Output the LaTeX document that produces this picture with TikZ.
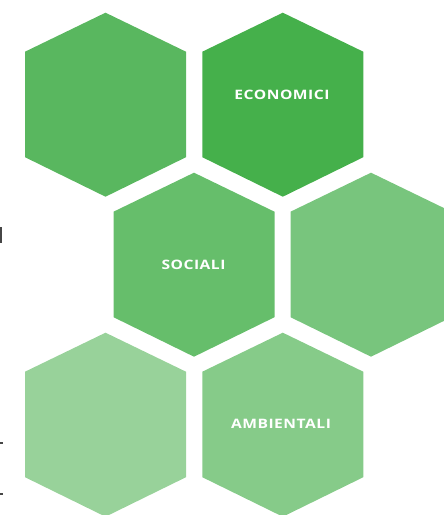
\documentclass[tikz,border=0pt]{standalone}
\usepackage{fontspec}
\newfontfamily\hexfont[UprightFont={* Bold},FakeStretch=1.2,LetterSpace=4]{Open Sans}
\definecolor{hA}{RGB}{89,183,95}
\definecolor{hB}{RGB}{69,176,75}
\definecolor{hC}{RGB}{102,190,107}
\definecolor{hD}{RGB}{120,197,125}
\definecolor{hE}{RGB}{152,210,154}
\definecolor{hF}{RGB}{134,203,137}
\definecolor{edgemark}{RGB}{70,70,70}
\tikzset{
  hexlabel/.style={text=white, font=\fontsize{13}{14}\hexfont, inner sep=0pt, anchor=center},
}
\newcommand\hexcell[3]{% center x, center y, colour
  \fill[#3] (#1,#2) ++(0,-92) -- ++(80.5,39) -- ++(0,105.5) -- ++(-80.5,39.5) -- ++(-80.5,-39.5) -- ++(0,-105.5) -- cycle;
}
\begin{document}
\begin{tikzpicture}[x=1pt,y=-1pt]
\useasboundingbox (0,0) rectangle (444,515);
\begin{scope}
\clip (0,0) rectangle (444,515);
\hexcell{105.5}{104.7}{hA}
\hexcell{282.8}{104.7}{hB}
\hexcell{194}{264.7}{hC}
\hexcell{371}{264.7}{hD}
\hexcell{105.5}{424.7}{hE}
\hexcell{282.8}{424.7}{hF}
\end{scope}
\node[hexlabel] (eco) at (282,95) {ECONOMICI};
\node[hexlabel] (soc) at (193.5,264.5) {SOCIALI};
\node[hexlabel] (amb) at (281,424) {AMBIENTALI};
\fill[edgemark] (0,226.7) rectangle (2,242.7);
\fill[edgemark] (0,441.7) rectangle (2.5,444);
\fill[edgemark] (0,492.7) rectangle (2.5,495);
\end{tikzpicture}
\end{document}
